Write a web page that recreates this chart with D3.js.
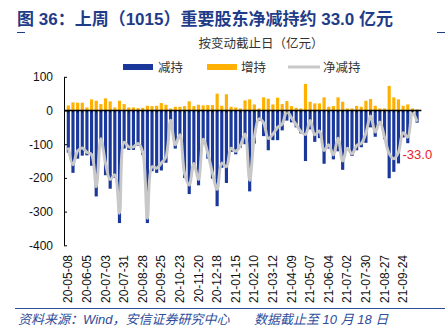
<!doctype html>
<html lang="zh">
  <head>
    <meta charset="utf-8" />
    <title>重要股东净减持</title>
    <style>
      body { margin: 0; background: #fff; }
      text { font-family: "Liberation Sans", "Noto Sans CJK SC", sans-serif; }
    </style>
  </head>
  <body>
    <div id="my_dataviz"></div>
    <script src="https://cdn.jsdelivr.net/npm/d3@7"></script>
    <script>
// weekly change dates (week end)
var dates = ["20-05-08","20-05-15","20-05-22","20-05-29","20-06-05","20-06-12","20-06-19","20-06-24",
  "20-07-03","20-07-10","20-07-17","20-07-24","20-07-31","20-08-07","20-08-14","20-08-21",
  "20-08-28","20-09-04","20-09-11","20-09-18","20-09-25","20-09-30","20-10-09","20-10-16",
  "20-10-23","20-10-30","20-11-06","20-11-13","20-11-20","20-11-27","20-12-04","20-12-11",
  "20-12-18","20-12-25","20-12-31","21-01-08","21-01-15","21-01-22","21-01-29","21-02-05",
  "21-02-10","21-02-19","21-02-26","21-03-05","21-03-12","21-03-19","21-03-26","21-04-02",
  "21-04-09","21-04-16","21-04-23","21-04-30","21-05-07","21-05-14","21-05-21","21-05-28",
  "21-06-04","21-06-11","21-06-18","21-06-25","21-07-02","21-07-09","21-07-16","21-07-23",
  "21-07-30","21-08-06","21-08-13","21-08-20","21-08-27","21-09-03","21-09-10","21-09-17",
  "21-09-24","21-09-30","21-10-08","21-10-15"];

// 减持 (亿元)
var reduce = [-125,-185,-143,-134,-133,-164,-255,-103,-192,-232,-200,-334,-113,-117,-117,-105,
  -132,-334,-180,-185,-178,-155,-35,-113,-83,-200,-248,-170,-222,-100,-143,-202,
  -284,-170,-215,-123,-130,-110,-100,-240,-98,-31,-76,-118,-88,-88,-59,-30,
  -35,-50,-68,-150,-56,-93,-82,-158,-113,-145,-121,-176,-118,-135,-118,-109,
  -96,-50,-78,-40,-85,-201,-182,-157,-80,-97,-12,-36];

// 增持 (亿元)
var increase = [15,24,23,23,9,33,29,19,36,27,9,29,19,9,9,7,
  8,14,13,14,22,17,6,11,11,13,27,13,17,15,16,16,
  50,14,48,11,9,6,30,33,18,6,39,35,18,38,19,28,
  13,8,6,79,26,21,21,39,11,13,39,26,6,6,14,11,
  29,34,14,6,6,73,39,33,14,18,6,3];

// 净减持 (亿元)
var net = [-110,-161,-120,-111,-124,-131,-226,-84,-156,-205,-191,-305,-94,-108,-108,-98,
  -124,-320,-167,-171,-156,-138,-29,-102,-72,-187,-221,-157,-205,-85,-127,-186,
  -234,-156,-167,-112,-121,-104,-70,-207,-80,-25,-37,-83,-70,-50,-40,-2,
  -22,-42,-62,-71,-30,-72,-61,-119,-102,-132,-82,-150,-112,-129,-104,-98,
  -67,-16,-64,-34,-79,-128,-143,-124,-66,-79,-6,-33];

var yTicks = [100, 0, -100, -200, -300, -400];
var legendNames = ["减持", "增持", "净减持"];

var blue = "#1a389b", orange = "#ffb000", grey = "#c8c8c8";

var svg = d3.select("#my_dataviz")
  .append("svg")
    .attr("width", 448)
    .attr("height", 330);

// scales
var x = d3.scaleBand()
    .domain(dates)
    .range([66, 419.4])
    .paddingInner(0.32)
    .paddingOuter(0.16);

var y = d3.scaleLinear()
    .domain([-400, 100])
    .range([245.3, 76.8]);

// title + subtitle
svg.append("text")
    .attr("x", 17).attr("y", 25)
    .attr("fill", "#1f3c88")
    .style("font-size", "17px")
    .style("font-weight", "bold")
    .text("图 36：上周（1015）重要股东净减持约 33.0 亿元");

svg.append("line").attr("x1", 17).attr("x2", 25).attr("y1", 32.5).attr("y2", 32.5)
    .attr("stroke", "#1f3c88").attr("stroke-width", 1);
svg.append("line").attr("x1", 437).attr("x2", 445).attr("y1", 32.5).attr("y2", 32.5)
    .attr("stroke", "#1f3c88").attr("stroke-width", 1);

svg.append("text")
    .attr("x", 261).attr("y", 47.5)
    .attr("text-anchor", "middle")
    .attr("fill", "#333")
    .style("font-size", "12.5px")
    .text("按变动截止日（亿元）");

// legend
var lg = svg.append("g").attr("class", "legend");
lg.append("rect").attr("x", 123).attr("y", 64).attr("width", 30).attr("height", 6).attr("fill", blue);
lg.append("rect").attr("x", 207).attr("y", 64).attr("width", 30).attr("height", 6).attr("fill", orange);
lg.append("line").attr("x1", 288).attr("x2", 320).attr("y1", 67).attr("y2", 67)
    .attr("stroke", grey).attr("stroke-width", 3);
[158, 241, 323].forEach(function(lx, i) {
  lg.append("text")
      .attr("x", lx).attr("y", 71.5)
      .attr("fill", "#333")
      .style("font-size", "12.5px")
      .text(legendNames[i]);
});

// bars: 减持
svg.append("g")
  .selectAll("rect")
  .data(reduce)
  .enter()
  .append("rect")
    .attr("x", function(d, i) { return x(dates[i]); })
    .attr("y", y(0))
    .attr("width", x.bandwidth())
    .attr("height", function(d) { return y(d) - y(0); })
    .attr("fill", blue);

// bars: 增持
svg.append("g")
  .selectAll("rect")
  .data(increase)
  .enter()
  .append("rect")
    .attr("x", function(d, i) { return x(dates[i]); })
    .attr("y", function(d) { return y(d); })
    .attr("width", x.bandwidth())
    .attr("height", function(d) { return y(0) - y(d); })
    .attr("fill", orange);

// net line (smoothed like excel)
var line = d3.line()
    .x(function(d, i) { return x(dates[i]) + x.bandwidth() / 2; })
    .y(function(d) { return y(d); })
    .curve(d3.curveCatmullRom.alpha(0.5));

svg.append("path")
    .datum(net)
    .attr("d", line)
    .attr("fill", "none")
    .attr("stroke", grey)
    .attr("stroke-width", 3);

// y axis
var yAxis = svg.append("g")
    .attr("transform", "translate(64,0)")
    .call(d3.axisLeft(y).tickValues(yTicks).tickSize(-3).tickSizeOuter(0).tickPadding(11));
yAxis.select(".domain").attr("stroke", "#000");
yAxis.selectAll(".tick line").attr("stroke", "#000");
yAxis.selectAll("text")
    .attr("fill", "#111")
    .style("font-size", "12px")
    .style("font-family", "Liberation Sans, Arial, sans-serif")
    .text(function(d) { return String(d); });

// zero line with small ticks
var zAxis = svg.append("g")
    .attr("transform", "translate(0," + y(0) + ")")
    .call(d3.axisBottom(x).tickSize(2).tickSizeOuter(0).tickFormat(""));
zAxis.select(".domain").attr("stroke", "#000").attr("stroke-width", 1.6)
    .attr("d", "M64,0H" + (x.range()[1] + 2));
zAxis.selectAll(".tick line").attr("stroke", "#000");

// date labels at the bottom, every 4th week
svg.append("g")
  .selectAll("text")
  .data(dates.filter(function(d, i) { return i % 4 === 0; }))
  .enter()
  .append("text")
    .attr("transform", function(d) { return "translate(" + (x(d) + x.bandwidth() / 2 + 4) + ",255) rotate(-90)"; })
    .attr("text-anchor", "end")
    .attr("fill", "#111")
    .style("font-size", "12px")
    .text(function(d) { return d; });

// annotation of the last value
svg.append("text")
    .attr("x", x(dates[dates.length - 1]) - 13)
    .attr("y", y(-130) + 4.5)
    .attr("fill", "#e8202a")
    .style("font-size", "13px")
    .text(net[net.length - 1].toFixed(1));

// footer
svg.append("line")
    .attr("x1", 15).attr("x2", 445).attr("y1", 308.5).attr("y2", 308.5)
    .attr("stroke", "#2e4d9a").attr("stroke-width", 1.2);
svg.append("text")
    .attr("x", 18).attr("y", 323.5)
    .attr("fill", "#2e4d9a")
    .style("font-size", "13px")
    .style("font-style", "italic")
    .text("资料来源：Wind，安信证券研究中心");
svg.append("text")
    .attr("x", 254).attr("y", 323.5)
    .attr("fill", "#2e4d9a")
    .style("font-size", "13px")
    .style("font-style", "italic")
    .text("数据截止至 10 月 18 日");
    </script>
  </body>
</html>
